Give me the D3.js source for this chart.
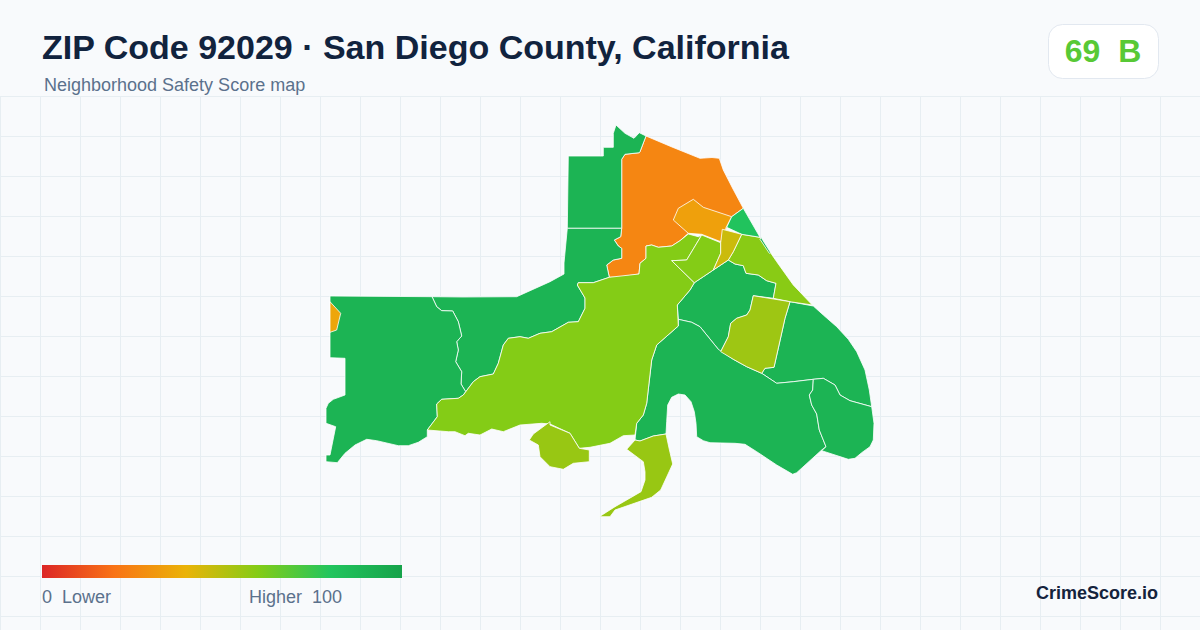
<!DOCTYPE html>
<html>
<head>
<meta charset="utf-8">
<style>
  html, body { margin: 0; padding: 0; background: #f8fafc; }
  svg { display: block; }
  text { font-family: "Liberation Sans", Arial, sans-serif; }
</style>
</head>
<body>
<div id="chart"></div>
<script src="https://cdn.jsdelivr.net/npm/d3@7"></script>
<script>
var title = "ZIP Code 92029 \u00b7 San Diego County, California";
var subtitle = "Neighborhood Safety Score map";
var zipScore = "69";
var zipGrade = "B";
var zipScoreValue = 69;
var brand = "CrimeScore.io";

// colour ramp
var rampStops = [0, 20, 40, 60, 80, 100];
var rampColors = ["#dc2626", "#f97316", "#eab308", "#84cc16", "#22c55e", "#16a34a"];
var legendTicks = [0, 100];
var legendLabels = ["0\u00a0\u00a0Lower", "Higher\u00a0\u00a0100"];

// one score per neighborhood, drawn in this order
var regionScores = [26, 90, 90, 90, 90, 90, 90, 90, 34, 60, 60, 59, 81, 46, 55, 56, 56, 36, 90];

// neighborhood outlines, in map units
var regionRings = [
  // north orange
  [[646,136],[672,147],[700,158.3],[712,157.5],[719.3,158.3],[723.3,170],[733,189],[743.3,208.3],[731.7,216.7],[720.7,241.7],[701.7,234.3],[688.3,233.3],[680,240.7],[671.7,246],[658.3,247.3],[651.7,245],[646,246],[646,258.3],[640,263.3],[639,274],[620,277],[609.3,277.3],[606.7,265],[613.3,260],[621.7,258.3],[621.7,248.3],[618.3,246],[614.3,240],[620.7,236.7],[621.7,228.3],[621.7,159.3],[625,154.3],[639.3,152.7],[640,151.7]],
  // north-west block
  [[616,125],[625,133.3],[634,138.3],[639.3,132.7],[646,136],[640,151.7],[639.3,152.7],[625,154.3],[621.7,159.3],[621.7,228.3],[567.3,228.3],[568.3,156],[603.3,156],[603.3,147.3],[613.3,147.3],[613.3,133.3]],
  // middle west
  [[432,296.7],[463,297],[516.7,296.7],[550,281.7],[564,274],[564,263],[567.3,228.3],[621.7,228.3],[620.7,236.7],[614.3,240],[618.3,246],[621.7,248.3],[621.7,258.3],[613.3,260],[606.7,265],[609.3,277.3],[593.3,282.7],[578.3,282.7],[577.3,285],[585,298],[585,308.3],[578.3,321.7],[568.3,322.3],[551.7,331.7],[540,333.3],[528.3,338.3],[520,336.7],[508.3,338.3],[503.3,345],[498.3,363.3],[493.3,374],[480,376.7],[473.3,381.7],[463.3,395],[465.7,391.7],[461,384],[461.7,371.7],[455.7,361.7],[458.3,350],[456.7,341.7],[461.7,336],[458.3,321.7],[452.7,311],[441.7,310.7],[436.7,306.7]],
  // far west
  [[330,296],[432,296.7],[436.7,306.7],[441.7,310.7],[452.7,311],[458.3,321.7],[461.7,336],[456.7,341.7],[458.3,350],[455.7,361.7],[461.7,371.7],[461,384],[465.7,391.7],[463.3,395],[458.3,398.3],[441.7,399.3],[436.7,404],[437.3,416.7],[427.3,430],[427.3,436.7],[418.3,442.3],[408.3,445.7],[398.3,445.7],[376.7,440.7],[366.7,439.3],[355,445],[345,453.3],[337.3,462.7],[326,461.7],[326,455],[330,455],[335.7,426.7],[326,423.3],[326,408.3],[328.3,403.3],[333.3,399.3],[345,395],[345,358.3],[330,357.7]],
  // centre east
  [[694.3,282.7],[703.3,276.7],[713.3,270],[728.3,260],[735,264],[743.3,265.7],[746,273.3],[758.3,275],[766.7,280.7],[776,283.3],[773.3,298.3],[753.3,295.7],[750,310],[746.7,315],[736.7,318.3],[730.7,323.3],[728.3,336.7],[720.7,351.7],[718.3,349.3],[700,326.7],[691.7,322.3],[678.3,319.3],[677.3,305],[690,290]],
  // east
  [[790,301.7],[813.3,306],[823.3,315],[836.7,326.7],[848.3,339.3],[856.7,351.7],[865,370],[869.3,390],[871.7,406.7],[850,400.7],[840,395],[835,385],[823.3,378.3],[813.3,379.3],[793.3,381.7],[776.7,383.3],[761.7,373.3],[765,368.3],[774,367.3],[785,318.3]],
  // south east
  [[678.3,326],[678.3,319.3],[691.7,322.3],[700,326.7],[718.3,349.3],[733.3,359.3],[746.7,366.7],[761.7,373.3],[776.7,383.3],[793.3,381.7],[813.3,379.3],[812.7,390],[809.3,395],[811.7,405],[816.7,414],[819.3,430],[826,446.7],[821.7,450],[796.7,472.7],[792.7,474.3],[776.7,465],[756.7,451.7],[745,444.3],[735,443.3],[710,442.7],[703.3,440.7],[696.7,436.7],[696,423.3],[694.3,411.7],[691,401.7],[685,395],[678.3,394],[671.7,397.3],[667.7,405],[666.7,421.7],[666,434],[653.3,436],[640,441],[635,440],[636.7,423.3],[643.3,415],[646.7,403.3],[651.7,360],[656.7,345]],
  // far south east
  [[813.3,379.3],[823.3,378.3],[835,385],[840,395],[850,400.7],[871.7,406.7],[874,423.3],[873.3,440],[870,446.7],[861.7,452.7],[855,458.3],[848.3,459.3],[821.7,450.7],[826,446.7],[819.3,430],[816.7,414],[811.7,405],[809.3,395],[812.7,390]],
  // amber inside orange
  [[693.3,199.3],[703.3,207.3],[731.7,216.7],[725.7,228.3],[720.7,241.7],[701.7,234.3],[688.3,233.3],[673.3,220],[678.3,208.3]],
  // main lime
  [[609.3,277.3],[639,274],[640,263.3],[646,258.3],[646,246],[651.7,245],[658.3,247.3],[671.7,246],[680,240.7],[688.3,234],[698.3,236.7],[701.7,235],[686.7,260],[671.7,260.7],[694.3,282.7],[690,290],[677.3,305],[678.3,326],[656.7,345],[651.7,360],[646.7,403.3],[643.3,415],[636.7,423.3],[635,435],[623.3,435.7],[610,443.3],[590,447.3],[579.3,448.3],[570,433.3],[550,424],[541.7,423.3],[520,425],[503.3,431.7],[491.7,429],[480,435],[468.3,433.3],[465,435.7],[455,431.7],[448.3,431.7],[427.3,430],[437.3,416.7],[436.7,404],[441.7,399.3],[458.3,398.3],[463.3,395],[473.3,381.7],[480,376.7],[493.3,374],[498.3,363.3],[503.3,345],[508.3,338.3],[520,336.7],[528.3,338.3],[540,333.3],[551.7,331.7],[568.3,322.3],[578.3,321.7],[585,308.3],[585,298],[577.3,285],[578.3,282.7],[593.3,282.7]],
  // small lime
  [[701.7,235],[720.7,242.7],[720.7,253.3],[713.3,270],[703.3,276.7],[694.3,282.7],[671.7,260.7],[686.7,260]],
  // north-east lime strip
  [[741.7,234.3],[760,237.3],[776.7,261.7],[793.3,285],[812.3,305],[790,301.7],[773.3,298.3],[776,283.3],[766.7,280.7],[758.3,275],[746,273.3],[743.3,265.7],[735,264],[728.3,260],[733.3,251.7]],
  // bright green
  [[743.3,208.3],[760,237.3],[741.7,234.3],[726.7,227.3],[731.7,216.7]],
  // yellow sliver
  [[722.3,229.3],[741.7,234.3],[733.3,251.7],[728.3,260],[713.3,270],[720.7,253.3],[720.7,242.7]],
  // olive box
  [[753.3,295.7],[790,301.7],[785,318.3],[774,367.3],[765,368.3],[761.7,373.3],[746.7,366.7],[733.3,359.3],[720.7,351.7],[728.3,336.7],[730.7,323.3],[736.7,318.3],[746.7,315],[750,310]],
  // south blob
  [[550,421.7],[550,425],[570,433.3],[579.3,448.3],[589.3,450],[589.3,461.7],[573.3,463.3],[563.3,469.3],[550,466.7],[540,456.7],[538.3,445],[529.3,440],[533.3,434]],
  // south hook
  [[635,440],[640,441],[653.3,436],[666,434],[669,448],[672.7,464],[660.7,490],[651.7,497.3],[615,510],[610,516.7],[599.3,516.7],[615,506.7],[641,491.7],[645,480],[645,471.7],[643.3,461.7],[626.7,449.3]],
  // far west amber notch
  [[330,301.7],[340.7,313.3],[336.7,330],[330,332.3]],
  // sliver on the north-east edge
  [[761,237.3],[770.7,252.7],[769.3,253.3],[760,239.3]]
];

var width = 1200,
    height = 630,
    cell = 40,
    gridTop = 96;

var color = d3.scaleLinear().domain(rampStops).range(rampColors);

var svg = d3.select("#chart").append("svg")
    .attr("width", width)
    .attr("height", height);

svg.append("rect")
    .attr("width", width)
    .attr("height", height)
    .attr("fill", "#f8fafc");

// background grid
var grid = svg.append("g")
    .attr("stroke", "#e7eef2")
    .attr("stroke-width", 1);

grid.selectAll(".vline")
    .data(d3.range(0, width, cell))
    .enter().append("line")
    .attr("class", "vline")
    .attr("x1", function(d) { return d + 0.5; })
    .attr("x2", function(d) { return d + 0.5; })
    .attr("y1", gridTop)
    .attr("y2", height);

grid.selectAll(".hline")
    .data(d3.range(gridTop, height, cell))
    .enter().append("line")
    .attr("class", "hline")
    .attr("x1", 0)
    .attr("x2", width)
    .attr("y1", function(d) { return d + 0.5; })
    .attr("y2", function(d) { return d + 0.5; });

// map
var path = d3.geoPath(d3.geoIdentity());

svg.append("g").selectAll(".region")
    .data(regionRings)
    .enter().append("path")
    .attr("class", "region")
    .attr("d", function(d) { return path({type: "Polygon", coordinates: [d.concat([d[0]])]}); })
    .attr("fill", function(d, i) { return color(regionScores[i]); })
    .attr("stroke", "#ffffff")
    .attr("stroke-width", 0.8)
    .attr("stroke-linejoin", "round");

// header
svg.append("text")
    .attr("x", 42)
    .attr("y", 59)
    .attr("font-size", 34)
    .attr("font-weight", 700)
    .attr("fill", "#11233e")
    .text(title);

svg.append("text")
    .attr("x", 44)
    .attr("y", 91)
    .attr("font-size", 18)
    .attr("fill", "#5b718c")
    .text(subtitle);

// score badge
svg.append("rect")
    .attr("x", 1048.5)
    .attr("y", 24.5)
    .attr("width", 110)
    .attr("height", 54)
    .attr("rx", 14)
    .attr("fill", "#ffffff")
    .attr("stroke", "#e2e8f0");

svg.append("text")
    .attr("x", 1103)
    .attr("y", 62)
    .attr("text-anchor", "middle")
    .attr("font-size", 32)
    .attr("font-weight", 700)
    .attr("fill", color(zipScoreValue))
    .text(zipScore + "\u00a0\u00a0" + zipGrade);

// legend
var legendX = d3.scaleLinear().domain(legendTicks).range([42, 402]);

var gradient = svg.append("defs").append("linearGradient")
    .attr("id", "ramp");

gradient.selectAll("stop")
    .data(rampStops)
    .enter().append("stop")
    .attr("offset", function(d) { return d + "%"; })
    .attr("stop-color", function(d) { return color(d); });

svg.append("rect")
    .attr("x", legendX(0))
    .attr("y", 565)
    .attr("width", legendX(100) - legendX(0))
    .attr("height", 13)
    .attr("fill", "url(#ramp)");

svg.append("text")
    .attr("x", 42)
    .attr("y", 603)
    .attr("font-size", 18)
    .attr("fill", "#5b718c")
    .text(legendLabels[0]);

svg.append("text")
    .attr("x", 249)
    .attr("y", 603)
    .attr("font-size", 18)
    .attr("fill", "#5b718c")
    .text(legendLabels[1]);

svg.append("text")
    .attr("x", 1158)
    .attr("y", 599)
    .attr("text-anchor", "end")
    .attr("font-size", 18)
    .attr("font-weight", 700)
    .attr("fill", "#14233c")
    .text(brand);
</script>
</body>
</html>
